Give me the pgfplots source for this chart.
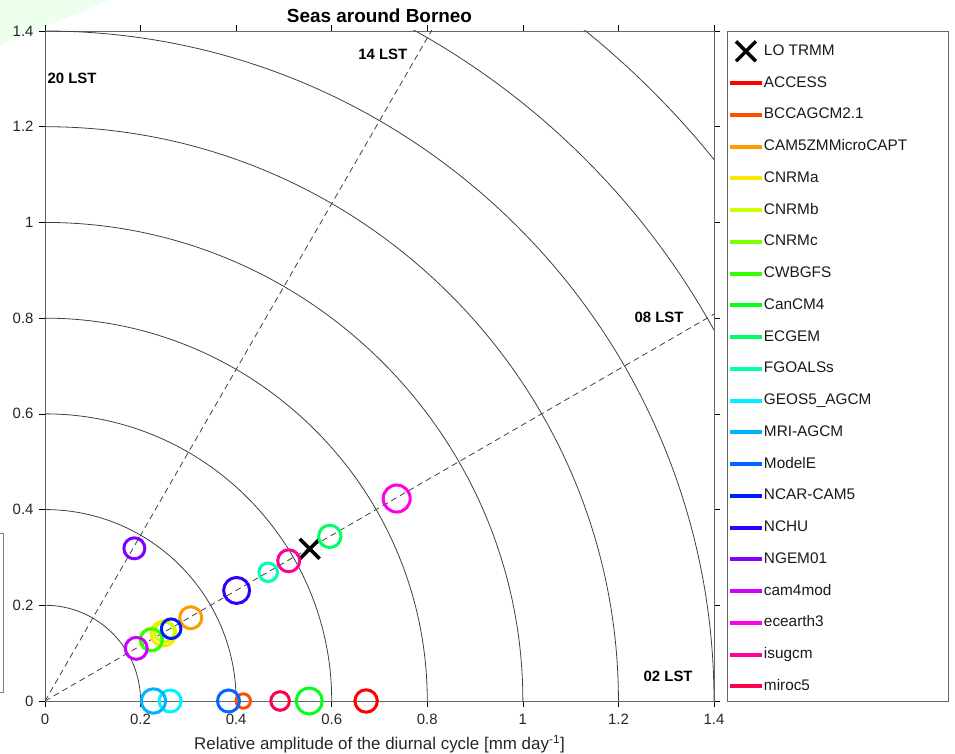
\documentclass[border=0pt]{standalone}
\usepackage{pgfplots}
\pgfplotsset{compat=1.18}
\usepackage{fontspec}
\setmainfont{Liberation Sans}
\definecolor{cACCESS}{RGB}{255,0,0}
\definecolor{cBCC}{RGB}{255,77,0}
\definecolor{cCAM}{RGB}{255,153,0}
\definecolor{cCNRMa}{RGB}{255,230,0}
\definecolor{cCNRMb}{RGB}{204,255,0}
\definecolor{cCNRMc}{RGB}{128,255,0}
\definecolor{cCWB}{RGB}{51,255,0}
\definecolor{cCanCM}{RGB}{0,255,26}
\definecolor{cECGEM}{RGB}{0,255,102}
\definecolor{cFGOALS}{RGB}{0,255,179}
\definecolor{cGEOS}{RGB}{0,240,255}
\definecolor{cMRI}{RGB}{0,179,255}
\definecolor{cModelE}{RGB}{0,102,255}
\definecolor{cNCAR}{RGB}{0,26,255}
\definecolor{cNCHU}{RGB}{51,0,255}
\definecolor{cNGEM}{RGB}{128,0,255}
\definecolor{ccam}{RGB}{204,0,255}
\definecolor{cece}{RGB}{255,0,230}
\definecolor{cisu}{RGB}{255,0,153}
\definecolor{cmiroc}{RGB}{255,0,77}
\pgfplotsset{
  ring/.style 2 args={only marks, mark=o, color=#1, mark size=#2, line width=3bp,
    legend image code/.code={\draw[line width=4bp, #1] (0bp,0bp) -- (32bp,0bp);}},
}
\begin{document}
\begin{tikzpicture}
\useasboundingbox (0,0) rectangle (955bp,754bp);
\fill[green!7] (0bp,754bp) -- (110bp,754bp) -- (0bp,709bp) -- cycle;
\draw[black!50, line width=0.8bp] (0bp,221bp) -- (3bp,221bp) -- (3bp,62bp) -- (0bp,62bp);
\begin{axis}[
  at={(45bp,53bp)}, anchor=south west,
  width=669bp, height=670bp, scale only axis,
  xmin=0, xmax=1.4, ymin=0, ymax=1.4,
  xtick={0,0.2,0.4,0.6,0.8,1,1.2,1.4},
  ytick={0,0.2,0.4,0.6,0.8,1,1.2,1.4},
  tick align=outside, major tick length=6bp,
  tick style={black, line width=0.6bp},
  axis line style={black!60, line width=0.8bp},
  /pgf/number format/assume math mode=true,
  ticklabel style={font=\fontsize{15}{17}\selectfont, text=black!85},
  xticklabel style={yshift=-3.5bp},
  yticklabel style={xshift=-2bp},
  title={Seas around Borneo},
  title style={at={(axis description cs:0.5,1)}, anchor=base, yshift=2.3bp, font=\bfseries\fontsize{19}{22}\selectfont},
  xlabel={Relative amplitude of the diurnal cycle [mm day\textsuperscript{-1}]},
  xlabel style={at={(axis description cs:0.5,0)}, anchor=base, yshift=-48.3bp, font=\fontsize{17}{20}\selectfont, text=black!85},
  legend cell align=left,
  legend style={at={(axis description cs:1.0209,0.9802)}, anchor=north west, draw=none, fill=none,
    inner sep=0pt, outer sep=0pt, row sep=17.75bp, column sep=0bp,
    font=\fontsize{15.4}{18}\selectfont,
    nodes={inner sep=0pt, text height=11bp, text depth=3bp, text=black!90}},
]
\pgfplotsinvokeforeach{0.2,0.4,0.6,0.8,1.0,1.2,1.4,1.6,1.8}{
  \draw[black!75, line width=0.8bp] (axis cs:0,0) circle[radius=#1];
}
\draw[black!75, line width=0.8bp, dash pattern=on 6bp off 4bp] (axis cs:0,0) -- (axis cs:1,1.7320508);
\draw[black!75, line width=0.8bp, dash pattern=on 6bp off 4bp] (axis cs:0,0) -- (axis cs:1.7320508,1);
\node[font=\bfseries\fontsize{15}{17}\selectfont] at (axis cs:0.0565,1.301) {20 LST};
\node[font=\bfseries\fontsize{15}{17}\selectfont] at (axis cs:0.707,1.351) {14 LST};
\node[font=\bfseries\fontsize{15}{17}\selectfont] at (axis cs:1.285,0.802) {08 LST};
\node[font=\bfseries\fontsize{15}{17}\selectfont] at (axis cs:1.304,0.051) {02 LST};

\addplot[only marks, mark=x, mark size=14bp, line width=3.5bp, black,
  legend image code/.code={\begin{pgfinterruptboundingbox}\draw plot coordinates {(16bp,0bp)};\end{pgfinterruptboundingbox}\path[draw=none, fill=none] (0bp,-1bp) rectangle (32bp,1bp);}] coordinates {(0.554,0.318)};
\addlegendentry{LO TRMM}
\addplot[ring={cACCESS}{11.2bp}] coordinates {(0.672,0)};
\addlegendentry{ACCESS}
\addplot[ring={cBCC}{7.2bp}] coordinates {(0.415,0)};
\addlegendentry{BCCAGCM2.1}
\addplot[ring={cCAM}{11bp}] coordinates {(0.305,0.174)};
\addlegendentry{CAM5ZMMicroCAPT}
\addplot[ring={cCNRMa}{12.5bp}] coordinates {(0.248,0.141)};
\addlegendentry{CNRMa}
\addplot[ring={cCNRMb}{10bp}] coordinates {(0.250,0.144)};
\addlegendentry{CNRMb}
\addplot[ring={cCNRMc}{11bp}] coordinates {(0.222,0.128)};
\addlegendentry{CNRMc}
\addplot[ring={cCWB}{11bp}] coordinates {(0.223,0.128)};
\addlegendentry{CWBGFS}
\addplot[ring={cCanCM}{13bp}] coordinates {(0.553,0)};
\addlegendentry{CanCM4}
\addplot[ring={cECGEM}{11.2bp}] coordinates {(0.596,0.344)};
\addlegendentry{ECGEM}
\addplot[ring={cFGOALS}{9.3bp}] coordinates {(0.467,0.269)};
\addlegendentry{FGOALSs}
\addplot[ring={cGEOS}{11bp}] coordinates {(0.262,0)};
\addlegendentry{GEOS5\_AGCM}
\addplot[ring={cMRI}{12.2bp}] coordinates {(0.227,0)};
\addlegendentry{MRI-AGCM}
\addplot[ring={cModelE}{11bp}] coordinates {(0.384,0)};
\addlegendentry{ModelE}
\addplot[ring={cNCAR}{9.8bp}] coordinates {(0.264,0.151)};
\addlegendentry{NCAR-CAM5}
\addplot[ring={cNCHU}{13bp}] coordinates {(0.401,0.231)};
\addlegendentry{NCHU}
\addplot[ring={cNGEM}{10.5bp}] coordinates {(0.187,0.319)};
\addlegendentry{NGEM01}
\addplot[ring={ccam}{11bp}] coordinates {(0.191,0.110)};
\addlegendentry{cam4mod}
\addplot[ring={cece}{13.5bp}] coordinates {(0.736,0.423)};
\addlegendentry{ecearth3}
\addplot[ring={cisu}{11bp}] coordinates {(0.510,0.293)};
\addlegendentry{isugcm}
\addplot[ring={cmiroc}{9.3bp}] coordinates {(0.492,0)};
\addlegendentry{miroc5}
\end{axis}
\draw[black!60, line width=0.8bp] (727bp,53bp) rectangle (948bp,723bp);
\end{tikzpicture}
\end{document}
